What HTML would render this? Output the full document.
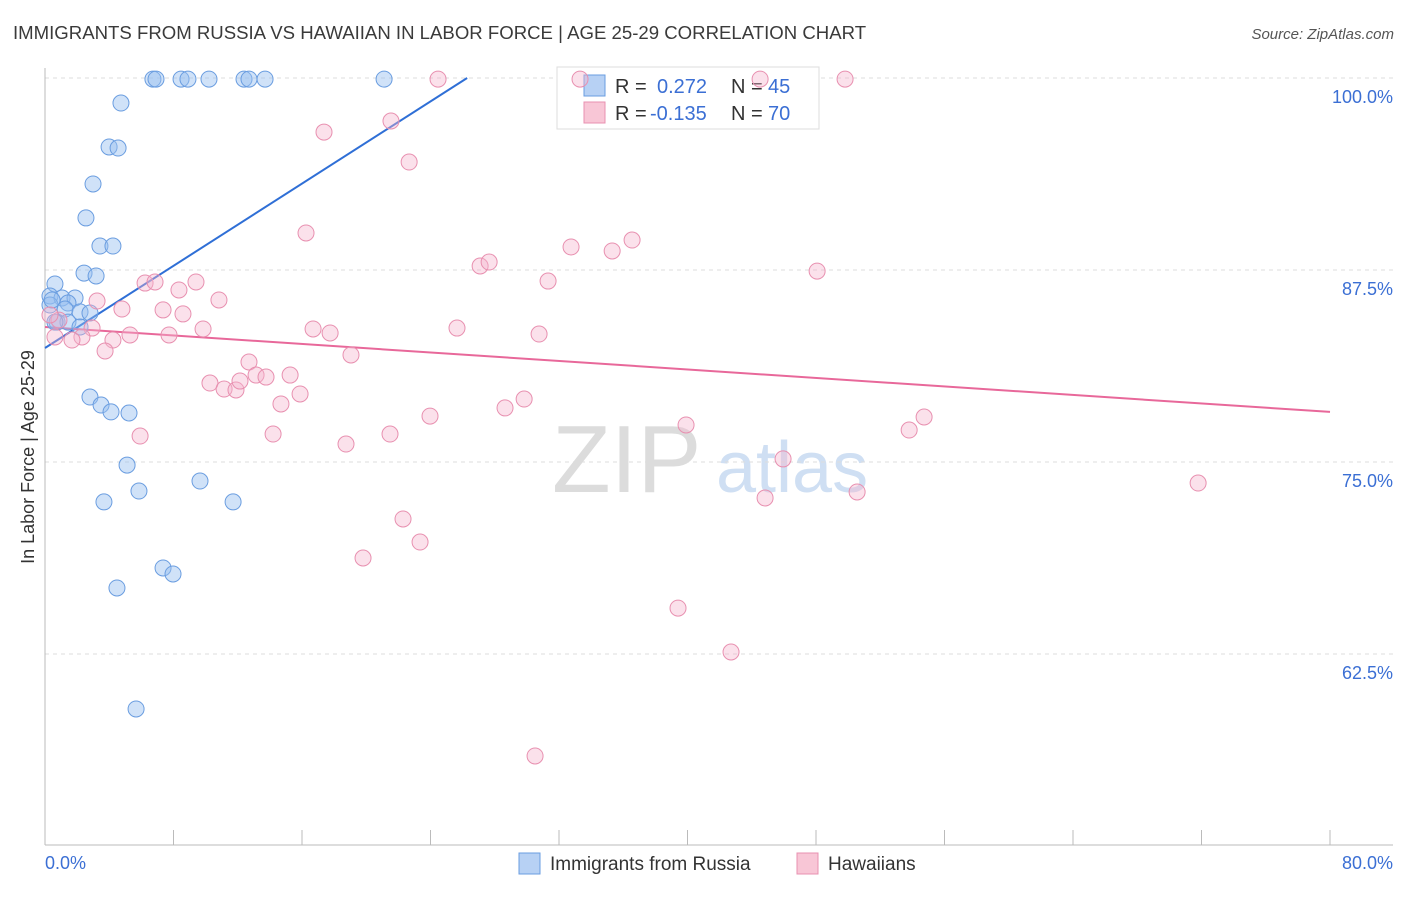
<!DOCTYPE html>
<html><head><meta charset="utf-8">
<style>
body{margin:0;background:#fff;font-family:"Liberation Sans",sans-serif;}
svg text{font-family:"Liberation Sans",sans-serif;}
</style></head>
<body>
<svg id="chart" width="1406" height="892" viewBox="0 0 1406 892" xmlns="http://www.w3.org/2000/svg">
<text x="13" y="39" font-size="18.6" fill="#3a3a3a">IMMIGRANTS FROM RUSSIA VS HAWAIIAN IN LABOR FORCE | AGE 25-29 CORRELATION CHART</text>
<text x="1394" y="39" font-size="15" fill="#555" font-style="italic" text-anchor="end">Source: ZipAtlas.com</text>
<g>
<text x="552" y="492" font-size="96" fill="#dcdcdc" font-family="Liberation Serif,serif">ZIP</text>
<text x="716" y="492" font-size="72" fill="#cfdff3">atlas</text>
</g>
<g id="grid"></g>
<g id="axes"></g>
<g>
<rect x="557" y="67" width="262" height="62" fill="#fff" stroke="#ddd"/>
<rect x="584" y="75" width="21" height="21" fill="#b7d1f4" stroke="#6a9de0"/>
<rect x="584" y="102" width="21" height="21" fill="#f8c6d6" stroke="#e890b0"/>
<text x="615" y="93" font-size="20" fill="#333">R = </text><text x="657" y="93" font-size="20" fill="#3b6fd4">0.272</text>
<text x="731" y="93" font-size="20" fill="#333">N = </text><text x="768" y="93" font-size="20" fill="#3b6fd4">45</text>
<text x="615" y="120" font-size="20" fill="#333">R = </text><text x="650" y="120" font-size="20" fill="#3b6fd4">-0.135</text>
<text x="731" y="120" font-size="20" fill="#333">N = </text><text x="768" y="120" font-size="20" fill="#3b6fd4">70</text>
</g>
<g id="lines"></g>
<g id="points"></g>
<text transform="translate(34,457) rotate(-90)" font-size="18" fill="#333" text-anchor="middle">In Labor Force | Age 25-29</text>
<text x="45" y="869" font-size="18" fill="#3b6fd4">0.0%</text>
<text x="1393" y="869" font-size="18" fill="#3b6fd4" text-anchor="end">80.0%</text>
<g>
<rect x="519" y="853" width="21" height="21" fill="#b7d1f4" stroke="#6a9de0"/>
<text x="550" y="870" font-size="19" fill="#333">Immigrants from Russia</text>
<rect x="797" y="853" width="21" height="21" fill="#f8c6d6" stroke="#e890b0"/>
<text x="828" y="870" font-size="19" fill="#333">Hawaiians</text>
</g>
</svg>
<script>
const yTicks=[100,87.5,75,62.5];
const yTickLabels=["100.0%","87.5%","75.0%","62.5%"];
const xTicks=[0,8,16,24,32,40,48,56,64,72,80];
const blueX=[6.72,6.91,8.47,8.90,10.21,12.39,12.70,13.70,21.11,4.73,3.99,4.55,2.99,2.55,3.42,4.23,2.43,3.18,0.62,0.31,1.06,1.87,1.43,0.31,1.25,2.18,2.80,0.75,1.43,2.18,2.80,3.49,4.11,5.23,5.11,3.67,5.85,9.65,11.71,7.35,7.97,4.48,5.67,0.62,0.44];
const blueY=[99.93,99.93,99.93,99.93,99.93,99.93,99.93,99.93,99.93,98.37,95.51,95.44,93.10,90.89,89.06,89.06,87.30,87.11,86.59,85.81,85.68,85.68,85.35,85.22,84.96,84.77,84.70,84.11,84.11,83.79,79.23,78.71,78.26,78.19,74.80,72.40,73.11,73.76,72.40,68.10,67.71,66.80,58.92,84.11,85.55];
const pinkX=[24.47,33.31,44.52,49.81,17.37,21.54,22.67,16.25,27.09,27.65,32.75,35.31,36.55,48.07,31.32,6.23,6.85,9.40,8.34,3.24,4.79,7.35,8.59,10.83,9.84,7.72,5.29,4.23,2.93,2.30,1.68,0.62,0.87,3.74,16.69,17.75,19.05,25.65,30.76,12.70,10.27,11.15,11.89,12.14,13.14,13.76,15.26,14.69,15.88,14.20,5.92,18.74,21.48,23.97,28.64,29.83,39.91,53.80,54.73,45.95,44.83,50.56,71.79,22.29,23.35,19.80,39.41,42.71,30.51,0.31];
const pinkY=[99.93,99.93,99.93,99.93,96.48,97.20,94.53,89.91,87.76,88.02,89.00,88.74,89.45,87.43,86.78,86.65,86.72,86.72,86.20,85.48,84.96,84.90,84.64,85.55,83.66,83.27,83.27,82.94,83.72,83.14,82.94,83.14,84.24,82.23,83.66,83.40,81.97,83.72,83.33,81.51,80.14,79.75,79.69,80.27,80.66,80.53,80.66,78.78,79.43,76.82,76.69,76.17,76.82,77.99,78.52,79.10,77.41,77.08,77.93,75.20,72.66,73.05,73.63,71.29,69.79,68.75,65.49,62.63,55.86,84.57];
const blueTrendX=[0,26.28];
const blueTrendY=[82.42,100];
const pinkTrendX=[0,80];
const pinkTrendY=[83.79,78.26];

const NS="http://www.w3.org/2000/svg";
function sx(v){return 45+v*(1285/80);}
function sy(v){return 78+(100-v)*15.36;}
function mk(tag,attrs,parent){const e=document.createElementNS(NS,tag);for(const k in attrs)e.setAttribute(k,attrs[k]);document.getElementById(parent).appendChild(e);return e;}

yTicks.forEach((t,i)=>{
  const l=mk('line',{x1:45,x2:1393,y1:sy(t),y2:sy(t),stroke:'#ddd','stroke-dasharray':'4,4'},'grid');
  
  
  const tx=mk('text',{x:1393,y:sy(t)+25,'font-size':18,fill:'#3b6fd4','text-anchor':'end'},'grid');
  tx.textContent=yTickLabels[i];
  
  
});
const ya=mk('line',{x1:45,x2:45,y1:68,y2:845,stroke:'#bbb'},'axes');


const xa=mk('line',{x1:45,x2:1393,y1:845,y2:845,stroke:'#bbb'},'axes');


xTicks.forEach(t=>{
  const l=mk('line',{x1:sx(t),x2:sx(t),y1:830,y2:845,stroke:'#bbb'},'axes');
  
  
});
blueX.forEach((x,i)=>{
  const c=mk('circle',{cx:sx(x),cy:sy(blueY[i]),r:8,fill:'rgba(150,190,240,0.45)',stroke:'#6a9de0','stroke-width':1},'points');
  
  
});
pinkX.forEach((x,i)=>{
  const c=mk('circle',{cx:sx(x),cy:sy(pinkY[i]),r:8,fill:'rgba(245,180,205,0.4)',stroke:'#e890b0','stroke-width':1},'points');
  
  
});
const bl=mk('line',{x1:sx(blueTrendX[0]),y1:sy(blueTrendY[0]),x2:sx(blueTrendX[1]),y2:sy(blueTrendY[1]),stroke:'#2f6fd6','stroke-width':2},'lines');


const pl=mk('line',{x1:sx(pinkTrendX[0]),y1:sy(pinkTrendY[0]),x2:sx(pinkTrendX[1]),y2:sy(pinkTrendY[1]),stroke:'#e8689a','stroke-width':2},'lines');


</script>
</body></html>
